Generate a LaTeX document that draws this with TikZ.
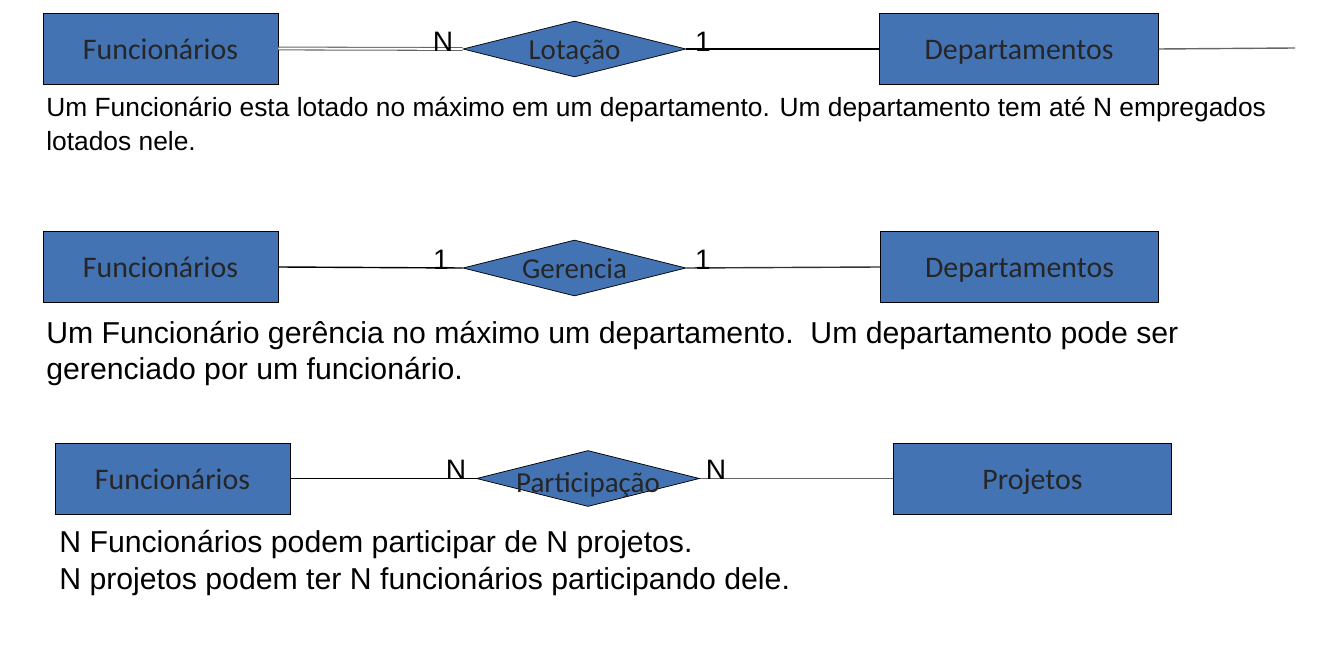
\documentclass[tikz,border=0pt]{standalone}
\usepackage{fontspec}
\setmainfont{Liberation Sans}
\newfontfamily\boxfont{Carlito}
\usetikzlibrary{shapes.geometric}
\definecolor{erblue}{RGB}{68,115,180}

\begin{document}
\begin{tikzpicture}[x=0.02cm,y=-0.02cm,
  entity/.style={draw=black,fill=erblue,minimum width=4.7cm,minimum height=1.42cm,
    font=\boxfont\fontsize{17}{18}\selectfont,text=black!85,text height=13pt,text depth=1pt},
  wide entity/.style={entity,minimum width=5.57cm},
  relship/.style={diamond,draw=black,fill=erblue,aspect=4,inner sep=0pt,
    minimum width=4.46cm,minimum height=1.12cm},
  rtext/.style={font=\boxfont\fontsize{16.5}{18}\selectfont,text=black!85,text height=13pt,text depth=1pt},
  card/.style={font=\fontsize{16}{18}\selectfont,inner sep=0pt},
  link/.style={line width=0.8pt},
  note/.style={anchor=base west,align=left,inner sep=0pt}]
  \useasboundingbox (0,0) rectangle (1319,648);
  % Lotacao
  \node[entity] (func1) at (160.5,48.5) {Funcionários};
  \node[relship,label={[rtext]center:Lotação}] (lot) at (574.5,49) {};
  \node[wide entity] (dep1) at (1019,49) {Departamentos};
  \coordinate (end1) at (1295,48);
  \draw[double,double distance=1pt,line width=0.6pt,black!60] (func1.east) -- (lot.west);
  \draw[link] (lot.east) -- (dep1.west);
  \draw[link,black!60] (dep1.east) -- (end1);
  \node[card] (n1) at (443,42) {N};
  \node[card] (c1) at (703,42) {1};
  \node[note,font=\fontsize{15}{19.5}\selectfont] (txt1) at (46,151)
    {Um Funcionário esta lotado no máximo em um departamento. Um departamento tem até N empregados\\lotados nele.};
  % Gerencia
  \node[entity] (func2) at (160.5,267) {Funcionários};
  \node[relship,label={[rtext]center:Gerencia}] (ger) at (574.5,268) {};
  \node[wide entity] (dep2) at (1019.5,267) {Departamentos};
  \draw[link] (func2.east) -- (ger.west);
  \draw[link,black!80] (ger.east) -- (dep2.west);
  \node[card] (c2) at (441,260) {1};
  \node[card] (c3) at (703,260) {1};
  \node[note,font=\fontsize{17.2}{21}\selectfont] (txt2) at (46,380)
    {Um Funcionário gerência no máximo um departamento.~~Um departamento pode ser\\gerenciado por um funcionário.};
  % Participacao
  \node[entity] (func3) at (172.5,478.5) {Funcionários};
  \node[relship,label={[rtext,yshift=-2pt]center:Participação}] (par) at (588,478.5) {};
  \node[wide entity] (proj) at (1032.5,478.5) {Projetos};
  \draw[link] (func3.east) -- (par.west);
  \draw[link,black!60] (par.east) -- (proj.west);
  \node[card] (n2) at (456,470) {N};
  \node[card] (n3) at (716,470) {N};
  \node[note,font=\fontsize{17.2}{20.5}\selectfont] (txt3) at (59,589)
    {N Funcionários podem participar de N projetos.\\N~projetos podem ter N funcionários participando dele.};
\end{tikzpicture}
\end{document}
